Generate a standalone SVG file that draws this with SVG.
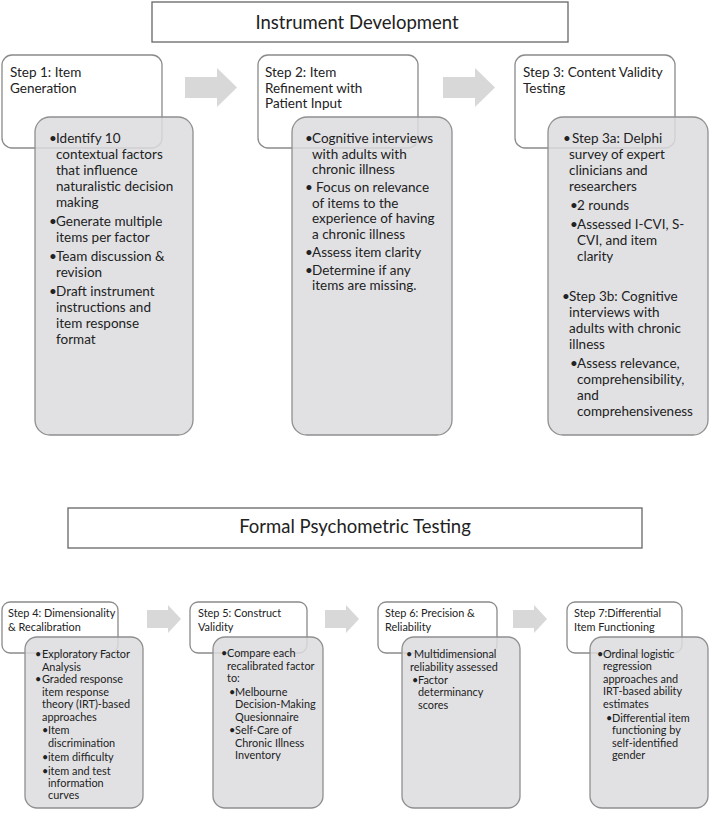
<svg xmlns="http://www.w3.org/2000/svg" width="710" height="820" viewBox="0 0 710 820">
<style>
.title{font-family:Lato,"Liberation Sans",sans-serif;font-size:18.5px;fill:#222;text-anchor:middle}
.t{font-family:Lato,"Liberation Sans",sans-serif;font-size:13.5px;fill:#222}
.s{font-family:Lato,"Liberation Sans",sans-serif;font-size:10.9px;fill:#222}
.tb{fill:#fff;stroke:#666;stroke-width:1.3}
.wb{fill:#fff;stroke:#8a8a8a;stroke-width:1.3}
.gb{fill:#dcdcdf;fill-opacity:0.85;stroke:#8f8f8f;stroke-width:1.3}
.ar{fill:#d8d8d8}
</style>
<rect width="710" height="820" fill="#fff"/>
<g id="title-instrument-development">
<rect class="tb" x="152" y="2" width="416" height="40"/>
<text class="title" x="357" y="29">Instrument Development</text>
</g>
<g id="title-formal-psychometric-testing">
<rect class="tb" x="68" y="508" width="574" height="40"/>
<text class="title" x="355" y="533">Formal Psychometric Testing</text>
</g>
<g id="connectors">
<polygon class="ar" points="185,77 217,77 217,68 237,87.5 217,107 217,98 185,98"/>
<polygon class="ar" points="443,77 475,77 475,68 495,87.5 475,107 475,98 443,98"/>
<polygon class="ar" points="147,610 168,610 168,605 181,619 168,633 168,628 147,628"/>
<polygon class="ar" points="325,610 346,610 346,605 359,619 346,633 346,628 325,628"/>
<polygon class="ar" points="513,610 534,610 534,605 547,619 534,633 534,628 513,628"/>
</g>
<g id="step1">
<rect class="wb" x="2" y="55" width="160" height="93" rx="10"/>
<text class="t"><tspan x="10" y="77">Step 1: Item</tspan><tspan x="10" y="92.5">Generation</tspan></text>
<rect class="gb" x="35" y="117" width="158" height="318" rx="15"/>
<text class="t"><tspan x="49" y="143">•</tspan><tspan x="56" y="143">Identify 10</tspan><tspan x="56" y="159">contextual factors</tspan><tspan x="56" y="175">that influence</tspan><tspan x="56" y="191">naturalistic decision</tspan><tspan x="56" y="207">making</tspan><tspan x="49" y="226">•</tspan><tspan x="56" y="226">Generate multiple</tspan><tspan x="56" y="242">items per factor</tspan><tspan x="49" y="261">•</tspan><tspan x="56" y="261">Team discussion &amp;</tspan><tspan x="56" y="277">revision</tspan><tspan x="49" y="296">•</tspan><tspan x="56" y="296">Draft instrument</tspan><tspan x="56" y="312">instructions and</tspan><tspan x="56" y="328">item response</tspan><tspan x="56" y="344">format</tspan></text>
</g>
<g id="step2">
<rect class="wb" x="258" y="55" width="160" height="93" rx="10"/>
<text class="t"><tspan x="265" y="77">Step 2: Item</tspan><tspan x="265" y="92.5">Refinement with</tspan><tspan x="265" y="108">Patient Input</tspan></text>
<rect class="gb" x="292" y="117" width="160" height="318" rx="15"/>
<text class="t"><tspan x="305" y="143">•</tspan><tspan x="312" y="143">Cognitive interviews</tspan><tspan x="312" y="158.5">with adults with</tspan><tspan x="312" y="174">chronic illness</tspan><tspan x="305" y="192">•</tspan><tspan x="316" y="192">Focus on relevance</tspan><tspan x="312" y="207.5">of items to the</tspan><tspan x="312" y="223">experience of having</tspan><tspan x="312" y="238.5">a chronic illness</tspan><tspan x="305" y="256.5">•</tspan><tspan x="312" y="256.5">Assess item clarity</tspan><tspan x="305" y="274.5">•</tspan><tspan x="312" y="274.5">Determine if any</tspan><tspan x="312" y="290">items are missing.</tspan></text>
</g>
<g id="step3">
<rect class="wb" x="515" y="55" width="160" height="93" rx="10"/>
<text class="t"><tspan x="523" y="77">Step 3: Content Validity</tspan><tspan x="523" y="92.5">Testing</tspan></text>
<rect class="gb" x="548" y="117" width="160" height="318" rx="15"/>
<text class="t"><tspan x="563" y="143">•</tspan><tspan x="572" y="143">Step 3a: Delphi</tspan><tspan x="569" y="159">survey of expert</tspan><tspan x="569" y="175">clinicians and</tspan><tspan x="569" y="191">researchers</tspan><tspan x="570" y="210">•</tspan><tspan x="577" y="210">2 rounds</tspan><tspan x="570" y="229">•</tspan><tspan x="577" y="229">Assessed I-CVI, S-</tspan><tspan x="577" y="245">CVI, and item</tspan><tspan x="577" y="261">clarity</tspan><tspan x="562" y="301">•</tspan><tspan x="569" y="301">Step 3b: Cognitive</tspan><tspan x="569" y="317">interviews with</tspan><tspan x="569" y="333">adults with chronic</tspan><tspan x="569" y="349">illness</tspan><tspan x="570" y="368">•</tspan><tspan x="577" y="368">Assess relevance,</tspan><tspan x="577" y="384">comprehensibility,</tspan><tspan x="577" y="400">and</tspan><tspan x="577" y="416">comprehensiveness</tspan></text>
</g>
<g id="step4">
<rect class="wb" x="2" y="602" width="116" height="51" rx="8"/>
<text class="s"><tspan x="8" y="617">Step 4: Dimensionality</tspan><tspan x="8" y="631">&amp; Recalibration</tspan></text>
<rect class="gb" x="25" y="637" width="118" height="171" rx="12"/>
<text class="s"><tspan x="35" y="657.5">•</tspan><tspan x="42" y="657.5">Exploratory Factor</tspan><tspan x="42" y="670.5">Analysis</tspan><tspan x="35" y="683">•</tspan><tspan x="42" y="683">Graded response</tspan><tspan x="42" y="695.5">item response</tspan><tspan x="42" y="708">theory (IRT)-based</tspan><tspan x="42" y="720.5">approaches</tspan><tspan x="42" y="734">•</tspan><tspan x="48" y="734">Item</tspan><tspan x="48" y="746.5">discrimination</tspan><tspan x="42" y="760.5">•</tspan><tspan x="48" y="760.5">item difficulty</tspan><tspan x="42" y="774.5">•</tspan><tspan x="48" y="774.5">item and test</tspan><tspan x="48" y="787">information</tspan><tspan x="48" y="799">curves</tspan></text>
</g>
<g id="step5">
<rect class="wb" x="190" y="602" width="117" height="51" rx="8"/>
<text class="s"><tspan x="198" y="617">Step 5: Construct</tspan><tspan x="198" y="631">Validity</tspan></text>
<rect class="gb" x="213" y="637" width="110" height="171" rx="12"/>
<text class="s"><tspan x="221" y="657">•</tspan><tspan x="227" y="657">Compare each</tspan><tspan x="227" y="669.5">recalibrated factor</tspan><tspan x="227" y="682">to:</tspan><tspan x="229" y="695.5">•</tspan><tspan x="235" y="695.5">Melbourne</tspan><tspan x="235" y="708">Decision-Making</tspan><tspan x="235" y="720.5">Quesionnaire</tspan><tspan x="229" y="734">•</tspan><tspan x="235" y="734">Self-Care of</tspan><tspan x="235" y="746.5">Chronic Illness</tspan><tspan x="235" y="759">Inventory</tspan></text>
</g>
<g id="step6">
<rect class="wb" x="378" y="602" width="119" height="51" rx="8"/>
<text class="s"><tspan x="385" y="617">Step 6: Precision &amp;</tspan><tspan x="385" y="631">Reliability</tspan></text>
<rect class="gb" x="402" y="637" width="118" height="171" rx="12"/>
<text class="s"><tspan x="406" y="657.5">•</tspan><tspan x="414" y="657.5">Multidimensional</tspan><tspan x="410" y="670.5">reliability assessed</tspan><tspan x="412" y="683.5">•</tspan><tspan x="418" y="683.5">Factor</tspan><tspan x="418" y="696">determinancy</tspan><tspan x="418" y="708.5">scores</tspan></text>
</g>
<g id="step7">
<rect class="wb" x="567" y="602" width="115" height="51" rx="8"/>
<text class="s"><tspan x="574" y="617">Step 7:Differential</tspan><tspan x="574" y="631">Item Functioning</tspan></text>
<rect class="gb" x="590" y="637" width="118" height="171" rx="12"/>
<text class="s"><tspan x="597" y="657.5">•</tspan><tspan x="603" y="657.5">Ordinal logistic</tspan><tspan x="603" y="670">regression</tspan><tspan x="603" y="682.5">approaches and</tspan><tspan x="603" y="695">IRT-based ability</tspan><tspan x="603" y="707.5">estimates</tspan><tspan x="606" y="721.5">•</tspan><tspan x="612" y="721.5">Differential item</tspan><tspan x="612" y="734">functioning by</tspan><tspan x="612" y="746.5">self-identified</tspan><tspan x="612" y="759">gender</tspan></text>
</g>
</svg>
